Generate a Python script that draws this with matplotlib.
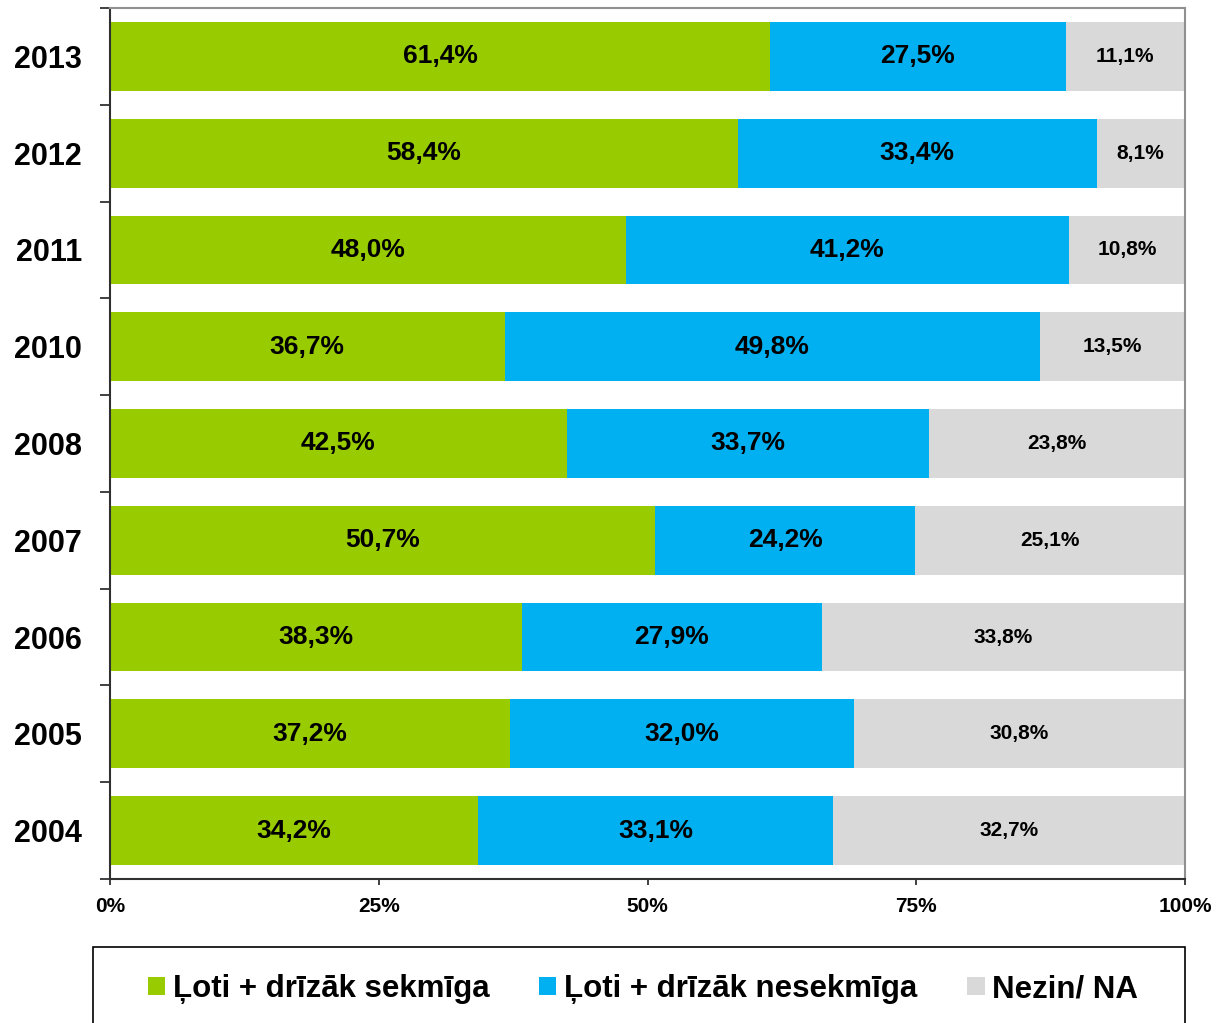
import matplotlib
matplotlib.use("Agg")
import matplotlib.pyplot as plt
from matplotlib.patches import Rectangle
import numpy as np

plt.rcParams['font.family'] = ['Liberation Sans', 'DejaVu Sans']
plt.rcParams['font.weight'] = 'bold'

# data, top to bottom as in the chart
years = ["2013", "2012", "2011", "2010", "2008", "2007", "2006", "2005", "2004"]
sekmiga = [61.4, 58.4, 48.0, 36.7, 42.5, 50.7, 38.3, 37.2, 34.2]
nesekmiga = [27.5, 33.4, 41.2, 49.8, 33.7, 24.2, 27.9, 32.0, 33.1]
nezin = [11.1, 8.1, 10.8, 13.5, 23.8, 25.1, 33.8, 30.8, 32.7]
series_names = ["Ļoti + drīzāk sekmīga", "Ļoti + drīzāk nesekmīga", "Nezin/ NA"]
x_ticks = [0, 25, 50, 75, 100]

colors = ["#99CC00", "#00B0F0", "#D9D9D9"]
label_sizes = [19, 19, 15]

fig = plt.figure(figsize=(12.24, 10.23), dpi=100)
ax = fig.add_axes([110 / 1224, 1 - 879 / 1023, 1075 / 1224, 871 / 1023])

y = np.arange(len(years))
left = np.zeros(len(years))
handles = []
for vals, col, name, fs in zip([sekmiga, nesekmiga, nezin], colors, series_names, label_sizes):
    vals = np.array(vals)
    bars = ax.barh(y, vals, left=left, height=0.71, color=col, edgecolor="none", label=name)
    handles.append(bars)
    for yi, l, v in zip(y, left, vals):
        ax.text(l + v / 2, yi, f"{v:.1f}%".replace(".", ","), ha="center", va="center",
                fontsize=fs, fontweight="bold", color="black")
    left = left + vals

ax.set_xlim(0, 100)
ax.set_ylim(len(years) - 0.5, -0.5)

# y axis: ticks at category boundaries, labels at centres
ax.set_yticks(np.arange(-0.5, len(years)), minor=False)
ax.set_yticklabels([])
ax.set_yticks(y, minor=True)
ax.set_yticklabels(years, minor=True, fontsize=22, fontweight="bold")
ax.tick_params(axis="y", which="major", length=7, width=1.2, color="#202020", direction="out")
ax.tick_params(axis="y", which="minor", length=0, pad=20)

ax.set_xticks(x_ticks)
ax.set_xticklabels([f"{t}%" for t in x_ticks], fontsize=15, fontweight="bold")
ax.tick_params(axis="x", length=4, width=1.2, color="#202020", pad=9)

for s in ["left", "bottom"]:
    ax.spines[s].set_color("#303030")
    ax.spines[s].set_linewidth(1.5)
for s in ["top", "right"]:
    ax.spines[s].set_color("#909090")
    ax.spines[s].set_linewidth(1.5)

# legend box (cut off at the bottom edge)
fig.patches.append(Rectangle((93 / 1224, -0.02), (1185 - 93) / 1224, (1023 - 947) / 1023 + 0.02,
                             transform=fig.transFigure, facecolor="white", edgecolor="black",
                             linewidth=1.2, clip_on=False))
fig.legend(handles=handles, loc="center", bbox_to_anchor=(643 / 1224, 1 - 989 / 1023),
           ncol=3, frameon=False, prop={"weight": "bold", "size": 22.5},
           handlelength=0.55, handleheight=0.55, handletextpad=0.25, columnspacing=1.6)

fig.savefig("out.png", dpi=100)
